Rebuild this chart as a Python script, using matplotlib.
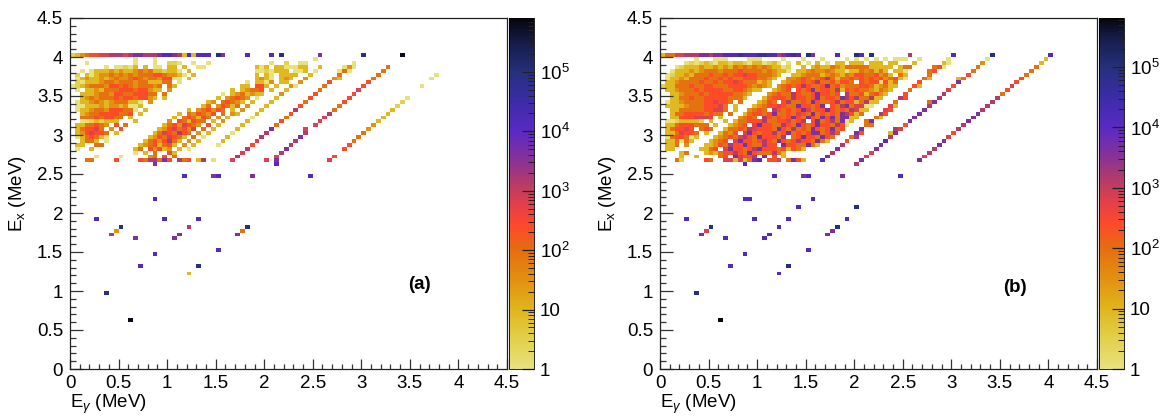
import numpy as np
import matplotlib
matplotlib.use("Agg")
import matplotlib.pyplot as plt
from matplotlib.colors import LinearSegmentedColormap, LogNorm
from matplotlib.ticker import MultipleLocator, FuncFormatter, LogLocator

plt.rcParams["font.family"] = ["Liberation Sans", "DejaVu Sans"]
plt.rcParams["mathtext.fontset"] = "custom"
plt.rcParams["mathtext.rm"] = "Liberation Sans"
plt.rcParams["mathtext.it"] = "Liberation Sans:italic"
plt.rcParams["mathtext.bf"] = "Liberation Sans:bold"

# 90 x 90 bins of 0.05 MeV on both axes (0 .. 4.5 MeV)
NBINS = 90
BIN_EDGES = np.linspace(0, 4.5, NBINS + 1)

LEVEL_CODES = "123456789ABCD"
LEVEL_LOG = [0.0, 0.45, 0.95, 1.5, 1.95, 2.4, 2.8, 3.15, 3.6, 4.1, 4.5, 5.0, 5.8]

# palette sampled from the colour bar: log10(counts) -> colour
CMAP_LOG = [0.0, 0.5, 1.0, 1.5, 2.0, 2.4, 2.75, 3.0, 3.5, 4.0, 4.5, 5.0, 5.5]
CMAP_HEX = ["#e8e27e", "#e2d04a", "#e0b51c", "#e39010", "#e46e10", "#fd4a2a", "#e4404a",
            "#c43e5c", "#8a3294", "#5a2ac4", "#3c2ca8", "#26307c", "#161c48"]
CMAP_TOP = "#06060c"

ZMAX_A = 8.1e5
ZMAX_B = 6.5e5

# dense region, one string per Ex bin from bin 80 (4.00-4.05 MeV) down to bin 53,
# one char per E_gamma bin starting at 0 MeV ('.' = empty, '|' only for reading)
TOP_ROW = 80
ROWS_A = [
    "2345667788|878998889A|A983A3AAA.|C9....A...|.A.C......|.9........|C.......D.",
    "..........|...1...1..|..........|..........|..........|1.........",
    "...1......|...1...1..|221..1..1.|..........|.1..2..11.|........1.",
    ".......1.1|1213.3.11.|33.3..11..|........31|3.3311133.|.3....141.|.....5....",
    "..1.133343|4334545332|331.3.....|........11|21333.113.|1....151..|....5.....",
    ".2.3134454|5454555665|4431.3....|........3.|31.3333..3|.....5....|...5......|.....1....",
    ".134334345|4456545546|611.3.....|........34|31.343..4.|....43....|..5.......|....1.....",
    ".213334554|5554553335|5.1.......|......1.33|14.33..4..|...6......|.6........",
    "1234555466|565455545.|53........|.....33.66|3.3..41...|..5.......|6.........|..1.......",
    ".1.3343555|666566433.|4.........|...3.34556|.3..3.....|.5.......7",
    "..33345546|65566655.5|..........|.1.3453433|...4......|6.......6.",
    "..34545556|56656643.3|..........|3.45654.1.|..3......6|.......6..|.........1",
    ".133454345|55331.4...|........34|.56543.3..|.3......5.|......6...|........2.",
    ".113334344|34113.....|.......35.|46535.4...|3......6..|.....5....|.......2..",
    ".133455466|6551.3....|....3.4564|65.3.4...3|......8...|....5.....|......3...",
    "..34556666|556.3.....|..3.546546|.5.43...3.|.....6....|...8......|.....3....",
    "..55565665|5.3.......|.3.565365.|4.3....1..|....5.....|..7.......|....3.....",
    "..11232333|...3......|4.653655.3|.4....3...|...6......|.7........|...3......",
    ".3355654.6|.5.......3|5647654.6.|3....3....|..5.......|7.........|..4.......",
    ".356675.4.|6.......34|675647.5.3|....3.....|.9......7.|..........|.4........",
    ".3467665.3|.......357|65865.4.3.|...1......|8.......8.|..........|5.........",
    ".1356531..|......3465|7653.5.1..|..3......8|.......9..|.........5",
    "..3553.1..|.....35646|853.4.3...|.3......7.|......8...|........5.",
    ".33..55...|....345635|63.4.3....|1......6..|.....8....|.......6..",
    ".1..3.....|...35.6463|4.3.1.....|......8...|....9.....|......6...",
    "..........|...1.3.5..|63........|.....7....|...8......",
    ".....1....|1.....45.6|.5........|....8.....|..7.......|....6.....",
    "...55....6|....658859|6.856.38.1|...7......|7.9.......|...7......",
]
ROWS_B = [
    "3557788899|899AAABAAA|BBAA89ABA.|C9....A...|CA.C......|.8........|A.......C.|..........|A",
    ".......1..|.111....11|1....1...1|...1....1.|1.1.1.1.11|1..1.....1|.......1..|.........3",
    ".....12123|2133233213|31231.1.3.|1.3.1.33.3|33.333.33.|..3.....31|......4...|........3.",
    "...1233343|3434354545|4543312.|.|3.34335435555533333.355..|..5|6|1......|5|...........|5",
    "..13334345|5545556555|5454331|.|3345445433133545353.331..|..5|6|.......|5|...........|5",
    ".123343555|6556566766|55543.|.|334555345435466556453.53.|...|5|.......|6|...........|5",
    ".133435556|5565655666|5543.|.|4456545685355656565645631|...|5|3.....3|5|...........|6",
    ".334555565|5656676555|343.|.|345565685564665.65661635.|...|6|.......|9|...........|6",
    "2335556556|6555666654|543|.|4565686556956455566534533|...|6|3......|6|...........|7",
    ".334555656|6665566543|3.|.|3456.65695665836565543543|...|5|.......|7|...........|6",
    "..33455565|666665543.|.|.|456558655696656.855635643|...|6|.......|8|...........|5",
    "..33556556|66665553..|.|3566658665695665986855833|...|8|6......|8|...........|8",
    ".133455556|67665.5..|.|3465.68556596556856635833|...|5|......5|9|...........|8",
    ".333345556|6675.3..|.|345667655966569.658957711|...|7|3......|8|...........|8",
    "..33555556|6775.3.|.|4565.86565697566965658733|...|7|6......|9|...........|8",
    "..35566665|655.5.|.|3566569556576595656598635|...|8|6......|9|...........|9",
    "..33666777|6.3..|.|4565.86565696596596959933|...|5|3......|9|...........|9",
    ".11233332.|3..3|.|355666855667568.695685913|..5|9|.......|9|...........|9",
    ".335666555|.3.|.|3456.79665586596569665861|...|5|5......|6|...........|8",
    ".356676.56|5.|.|3556587666596585659656956|...|9|......8|7|...........|8",
    ".3357665.3|.|.|3546.79656685695656995686|...|9|6.....3|9|...........|6",
    ".1566513..|.|345657865966658.569665965|...|5|8......|8|...........|7",
    ".335153..|.|3456.79665686596568665953|...|6|.......|A|...........|9",
    ".335.4..|.|334658669655866.96655953.|...|8|.......|9|...........|9",
    ".33....|.|3356.79665689666563653...|...|9|.......|9|...........|8",
    "....35|.|..34356686596555853......|...|8|.......|7|...........|8",
    "....3|.|.3....56.97668.9.6.3.....|...|9|.......|7|...........|7",
    "...52....6|5..7737359|A.667.5963|...A......|.9........|...9......",
]

# isolated cells below 2.65 MeV: Ex bin, E_gamma bin, level code
LOW_ROW_A = [52, 52, 49, 49, 49, 49, 49, 43, 38, 38, 38, 36, 36, 36, 35, 35, 34, 34, 34,
             33, 33, 30, 29, 26, 26, 24, 19, 12]
LOW_COL_A = [17, 42, 23, 29, 30, 37, 49, 17, 5, 19, 26, 10, 24, 36, 9, 35, 8, 22, 34,
             13, 21, 30, 17, 14, 26, 24, 7, 12]
LOW_LVL_A = "9AA9A9AAAAAC8C4589999AAAC3CD"

LOW_ROW_B = [52, 52, 49, 49, 49, 49, 49, 43, 43, 43, 41, 41, 38, 38, 38, 38, 36, 36, 36,
             35, 35, 34, 34, 34, 33, 33, 30, 29, 26, 26, 24, 19, 12]
LOW_COL_B = [17, 40, 23, 29, 30, 37, 49, 17, 18, 31, 28, 40, 5, 19, 26, 38, 10, 24, 36,
             9, 35, 8, 22, 34, 13, 21, 30, 17, 14, 26, 24, 7, 12]
LOW_LVL_B = "A8A9A9AAAAACAAAACAC799A9AAAAACACD"


def make_cmap(zmax):
    top = np.log10(zmax)
    stops = [(v / top, c) for v, c in zip(CMAP_LOG, CMAP_HEX)] + [(1.0, CMAP_TOP)]
    return LinearSegmentedColormap.from_list("sunset", stops)


def build_hist(rows, low_r, low_c, low_l):
    lev = dict(zip(LEVEL_CODES, LEVEL_LOG))
    z = np.full((NBINS, NBINS), np.nan)
    for i, txt in enumerate(rows):
        r = TOP_ROW - i
        for c, ch in enumerate(txt.replace("|", "")):
            if ch != ".":
                z[r, c] = 10 ** lev[ch]
    for r, c, ch in zip(low_r, low_c, low_l):
        z[r, c] = 10 ** lev[ch]
    return np.ma.masked_invalid(z)


def cb_label(v, pos):
    e = int(round(np.log10(v)))
    if e == 0:
        return "1"
    if e == 1:
        return "10"
    return r"$10^{%d}$" % e


W, H = 1163, 418
FS = 13.5
fig = plt.figure(figsize=(W / 100, H / 100), dpi=100)

panels = [
    (ROWS_A, LOW_ROW_A, LOW_COL_A, LOW_LVL_A, ZMAX_A, 70, 509, "(a)", (3.6, 1.08)),
    (ROWS_B, LOW_ROW_B, LOW_COL_B, LOW_LVL_B, ZMAX_B, 660, 1099, "(b)", (3.66, 1.04)),
]
for rows, lr, lc, ll, zmax, x0, cbx, tag, tpos in panels:
    ax = fig.add_axes([x0 / W, 49 / H, 437 / W, 351 / H])
    z = build_hist(rows, lr, lc, ll)
    m = ax.pcolormesh(BIN_EDGES, BIN_EDGES, z, cmap=make_cmap(zmax),
                      norm=LogNorm(vmin=1, vmax=zmax), linewidth=0)
    ax.set_xlim(0, 4.5)
    ax.set_ylim(0, 4.5)
    for a in (ax.xaxis, ax.yaxis):
        a.set_major_locator(MultipleLocator(0.5))
        a.set_minor_locator(MultipleLocator(0.1))
        a.set_major_formatter(FuncFormatter(lambda v, p: "%g" % v))
    ax.tick_params(which="both", direction="in", top=False, right=False,
                   labelsize=FS, width=0.9, color="#333333")
    ax.tick_params(axis="x", which="major", length=7, pad=4)
    ax.tick_params(axis="x", which="minor", length=3.5)
    ax.tick_params(axis="y", which="major", length=9, pad=5)
    ax.tick_params(axis="y", which="minor", length=4.5)
    for s in ax.spines.values():
        s.set_linewidth(0.9)
        s.set_color("#222222")
    ax.set_xlabel(r"E$_{\gamma}$ (MeV)", fontsize=FS, loc="left", labelpad=1)
    ax.set_ylabel(r"E$_{\mathrm{x}}$ (MeV)", fontsize=FS, labelpad=6)
    ax.text(tpos[0], tpos[1], tag, fontsize=FS, fontweight="bold", ha="center", va="center")

    cax = fig.add_axes([cbx / W, 49 / H, 25 / W, 351 / H])
    cb = fig.colorbar(m, cax=cax)
    cb.outline.set_linewidth(0.6)
    cax.yaxis.set_major_locator(LogLocator(base=10))
    cax.yaxis.set_minor_locator(LogLocator(base=10, subs=np.arange(2, 10)))
    cax.yaxis.set_major_formatter(FuncFormatter(cb_label))
    cax.tick_params(which="both", direction="in", right=True, left=False,
                    labelsize=FS, color="#222222", pad=4)
    cax.tick_params(which="major", length=9, width=0.9)
    cax.tick_params(which="minor", length=4.5, width=0.7)

fig.savefig("out.png", dpi=100)
